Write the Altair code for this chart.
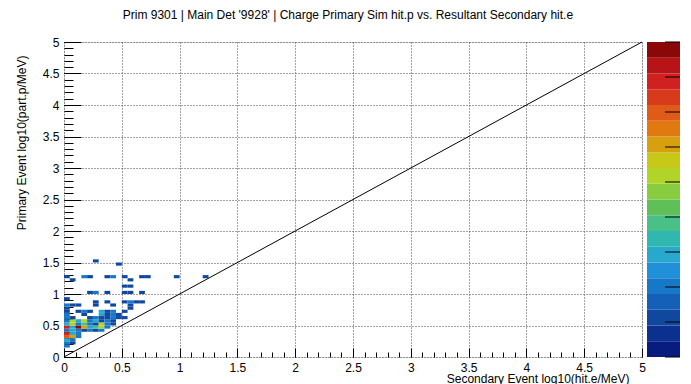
import altair as alt
import pandas as pd

# ---- data (bin indices of 0.05-wide bins, and entries) ----
bin_w = 0.05
cell_i = [0, 0, 1, 0, 1, 0, 1, 2, 0, 1, 2,
          0, 1, 2, 3, 4, 5, 6,
          0, 1, 2, 3, 4, 5, 6, 7,
          0, 1, 2, 3, 4, 5, 6, 7, 8,
          0, 1, 2, 3, 4, 5, 6, 7, 8,
          0, 1, 4, 5, 6, 7, 8, 9, 10,
          0, 3, 6, 7, 8, 9,
          0, 2, 3, 4, 6, 7, 8, 10,
          0, 11,
          0, 1, 2, 5, 8, 11,
          5, 7, 10, 11, 12, 13,
          0,
          4, 5, 7, 10, 11, 13,
          10, 11,
          1, 11,
          0, 3, 4, 7, 8, 10, 13, 14, 19, 24,
          9, 5]
cell_k = [3, 4, 4, 5, 5, 6, 6, 6, 7, 7, 7,
          8, 8, 8, 8, 8, 8, 8,
          9, 9, 9, 9, 9, 9, 9, 9,
          10, 10, 10, 10, 10, 10, 10, 10, 10,
          11, 11, 11, 11, 11, 11, 11, 11, 11,
          12, 12, 12, 12, 12, 12, 12, 12, 12,
          13, 13, 13, 13, 13, 13,
          14, 14, 14, 14, 14, 14, 14, 14,
          15, 15,
          16, 16, 16, 16, 16, 16,
          17, 17, 17, 17, 17, 17,
          18,
          20, 20, 20, 20, 20, 20,
          22, 22,
          24, 24,
          25, 25, 25, 25, 25, 25, 25, 25, 25, 25,
          29, 30]
cell_count = [2, 2, 1, 3, 2, 7, 6, 2, 8, 3, 2,
              2, 3, 2, 1, 2, 1, 2,
              8, 3, 9, 6, 3, 4, 5, 2,
              3, 5, 2, 4, 2, 1, 5, 2, 1,
              2, 5, 3, 5, 2, 3, 1, 2, 1,
              2, 1, 1, 2, 1, 1, 2, 1, 1,
              2, 1, 3, 1, 2, 1,
              1, 1, 2, 1, 3, 1, 2, 1,
              1, 1,
              2, 1, 1, 1, 1, 1,
              1, 1, 1, 2, 1, 1,
              1,
              1, 2, 1, 1, 1, 1,
              1, 1,
              1, 1,
              1, 2, 1, 1, 2, 1, 1, 1, 1, 1,
              1, 1]

diag_x = [0, 5]
diag_y = [0, 5]
axis_major = [0, 0.5, 1, 1.5, 2, 2.5, 3, 3.5, 4, 4.5, 5]
axis_minor = [round(0.1 * i, 1) for i in range(51)]
z_max = 9
z_ticks = [0, 1, 2, 3, 4, 5, 6, 7, 8, 9]
n_levels = 20
palette = ["#081c80", "#0c3090", "#1048a0", "#1460b8", "#1878c8",
           "#2090d8", "#28a8cc", "#30b8b0", "#48c088", "#60c058",
           "#88cc40", "#b0d428", "#c8c818", "#d8a010", "#e07a10",
           "#e05a18", "#d83a1c", "#d02020", "#b81418", "#8a0808"]

title_text = "Prim 9301 | Main Det '9928' | Charge Primary Sim hit.p vs. Resultant Secondary hit.e"
x_title = "Secondary Event log10(hit.e/MeV)"
y_title = "Primary Event log10(part.p/MeV)"

# ---- tables ----
cells = pd.DataFrame({
    "x0": [i * bin_w for i in cell_i],
    "y0": [k * bin_w for k in cell_k],
    "count": cell_count,
})
cells["x1"] = cells["x0"] + bin_w
cells["y1"] = cells["y0"] + bin_w
diag = pd.DataFrame({"x": diag_x, "y": diag_y})
step = z_max / n_levels
bands = pd.DataFrame({
    "lo": [step * j for j in range(n_levels)],
    "hi": [step * (j + 1) for j in range(n_levels)],
})
bands["mid"] = (bands["lo"] + bands["hi"]) / 2
zt = pd.DataFrame({"z": z_ticks})

W, H = 578, 315
CBW = 33
xs = alt.Scale(domain=[0, 5], nice=False, zero=False)
ys = alt.Scale(domain=[0, 5], nice=False, zero=False)
zs = alt.Scale(domain=[0, z_max], nice=False, zero=False)
cs = alt.Scale(type="quantize", domain=[0, z_max], range=palette)

heat = alt.Chart(cells).mark_rect().encode(
    x=alt.X("x0:Q", scale=xs, axis=alt.Axis(
        orient="bottom", values=axis_major, format="~g", grid=True,
        gridDash=[1, 2], gridColor="#444", ticks=False, domain=False,
        labelFlush=False, labelPadding=5, title=x_title, titleX=W - 13,
        titleY=25, titleAlign="right", titleBaseline="alphabetic")),
    x2="x1",
    y=alt.Y("y0:Q", scale=ys, axis=alt.Axis(
        orient="left", values=axis_major, format="~g", grid=True,
        gridDash=[1, 2], gridColor="#444", ticks=False, domain=False,
        labelFlush=False, labelPadding=5, title=y_title, titleY=13,
        titleAlign="right", titlePadding=14)),
    y2="y1",
    color=alt.Color("count:Q", scale=cs, legend=None),
)

line = alt.Chart(diag).mark_line(color="black", strokeWidth=1).encode(
    x=alt.X("x:Q", scale=xs, axis=alt.Axis(
        orient="bottom", values=axis_major, labels=False, grid=False,
        domain=False, tickSize=9, offset=-9, tickColor="black", title=None)),
    y=alt.Y("y:Q", scale=ys, axis=alt.Axis(
        orient="left", values=axis_major, labels=False, grid=False,
        domain=False, tickSize=17, offset=-17, tickColor="black", title=None)),
)

minor = alt.Chart(diag).mark_line(opacity=0).encode(
    x=alt.X("x:Q", scale=xs, axis=alt.Axis(
        orient="bottom", values=axis_minor, labels=False, grid=False,
        domain=False, tickSize=5, offset=-5, tickColor="black", title=None)),
    y=alt.Y("y:Q", scale=ys, axis=alt.Axis(
        orient="left", values=axis_minor, labels=False, grid=False,
        domain=False, tickSize=9, offset=-9, tickColor="black", title=None)),
)

main = alt.layer(heat, line, minor).resolve_axis(
    x="independent", y="independent"
).properties(width=W, height=H)

cbar_rect = alt.Chart(bands).mark_rect().encode(
    y=alt.Y("lo:Q", scale=zs,
            axis=alt.Axis(orient="right", values=z_ticks, ticks=False,
                          domain=False, grid=False, labelFlush=False,
                          labelPadding=3, title=None)),
    y2="hi",
    color=alt.Color("mid:Q", scale=cs, legend=None),
)

cbar_ticks = alt.Chart(zt).mark_rule(color="black", strokeWidth=1).encode(
    y=alt.Y("z:Q", scale=zs, axis=None),
    x=alt.value(CBW - 15),
    x2=alt.value(CBW),
)

cbar = alt.layer(cbar_rect, cbar_ticks).properties(
    width=CBW, height=H, view=alt.ViewBackground(stroke="transparent"))

chart = alt.hconcat(main, cbar, spacing=0).resolve_scale(color="shared").properties(
    title=alt.TitleParams(text=title_text, fontSize=12, fontWeight="normal",
                          anchor="middle", offset=14, color="black"),
    padding={"left": 6, "top": 0, "right": 0, "bottom": 0},
).configure_view(stroke="black", strokeWidth=1).configure(
    font="Liberation Sans"
).configure_axis(
    labelFontSize=12, titleFontSize=12, titleFontWeight="normal",
    labelColor="black", titleColor="black", labelFont="Liberation Sans",
    titleFont="Liberation Sans"
).configure_title(font="Liberation Sans")

chart.save("out.html", embed_options={"renderer": "svg", "actions": False})
